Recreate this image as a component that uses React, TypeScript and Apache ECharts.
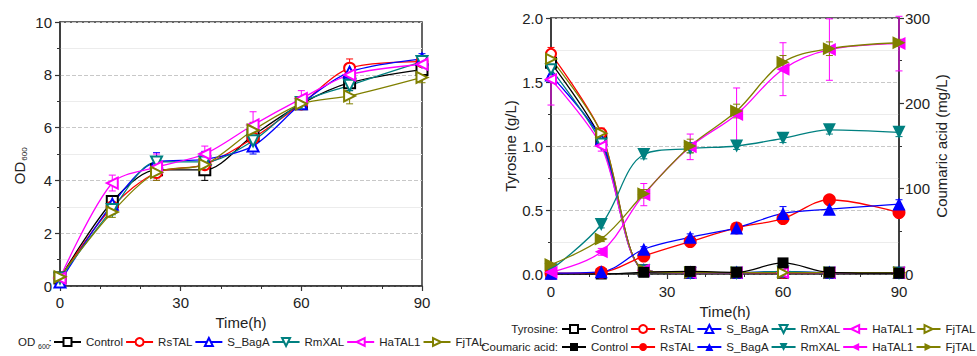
import React, { useEffect, useRef } from "react";
import * as echarts from "echarts";

// ---------- data ----------
const TIMES = [0, 13, 24, 36, 48, 60, 72, 90];
const STRAINS = ["Control", "RsTAL", "S_BagA", "RmXAL", "HaTAL1", "FjTAL"];
const COLORS = ["#000000", "#ff0000", "#0000ff", "#008080", "#ff00ff", "#808000"];

// OD600
const OD_CONTROL = [0.3, 3.2, 4.4, 4.4, 5.7, 6.9, 7.7, 8.2];
const OD_RSTAL = [0.3, 3.0, 4.3, 4.6, 5.6, 6.9, 8.25, 8.5];
const OD_SBAGA = [0.15, 3.1, 4.7, 4.8, 5.3, 6.9, 8.1, 8.6];
const OD_RMXAL = [0.3, 2.9, 4.7, 4.7, 5.5, 6.95, 7.6, 8.5];
const OD_HATAL1 = [0.3, 3.9, 4.5, 5.0, 6.1, 7.1, 8.0, 8.4];
const OD_FJTAL = [0.35, 2.8, 4.3, 4.6, 5.9, 6.9, 7.2, 7.9];

const OD_ERR_CONTROL = [0.05, 0.2, 0.3, 0.4, 0.3, 0.1, 0.3, 0.3];
const OD_ERR_RSTAL = [0.05, 0.2, 0.3, 0.4, 0.3, 0.2, 0.35, 0.2];
const OD_ERR_SBAGA = [0.05, 0.2, 0.35, 0.3, 0.3, 0.1, 0.3, 0.2];
const OD_ERR_RMXAL = [0.05, 0.2, 0.2, 0.2, 0.2, 0.1, 0.2, 0.2];
const OD_ERR_HATAL1 = [0.05, 0.3, 0.5, 0.3, 0.5, 0.3, 0.2, 0.2];
const OD_ERR_FJTAL = [0.05, 0.2, 0.3, 0.2, 0.3, 0.2, 0.3, 0.2];

// Tyrosine (g/L)
const TY_CONTROL = [1.65, 1.05, 0.03, 0.01, 0.01, 0.01, 0.01, 0.01];
const TY_RSTAL = [1.72, 1.1, 0.03, 0.01, 0.01, 0.01, 0.01, 0.01];
const TY_SBAGA = [1.55, 1.05, 0.03, 0.01, 0.01, 0.02, 0.01, 0.01];
const TY_RMXAL = [1.6, 1.02, 0.03, 0.01, 0.01, 0.02, 0.01, 0.01];
const TY_HATAL1 = [1.52, 1.0, 0.03, 0.01, 0.01, 0.01, 0.01, 0.01];
const TY_FJTAL = [1.68, 1.1, 0.03, 0.01, 0.01, 0.01, 0.01, 0.01];

const TY_ERR_CONTROL = [0.05, 0.03, 0.01, 0, 0, 0, 0, 0];
const TY_ERR_RSTAL = [0.05, 0.04, 0.01, 0, 0, 0, 0, 0];
const TY_ERR_SBAGA = [0.05, 0.03, 0.01, 0, 0, 0, 0, 0];
const TY_ERR_RMXAL = [0.05, 0.03, 0.01, 0, 0, 0, 0, 0];
const TY_ERR_HATAL1 = [0.2, 0.04, 0.01, 0, 0, 0, 0, 0];
const TY_ERR_FJTAL = [0.05, 0.03, 0.01, 0, 0, 0, 0, 0];

// Coumaric acid (mg/L)
const CA_CONTROL = [0, 0, 2, 3, 2, 13, 2, 1];
const CA_RSTAL = [1, 2, 21, 38, 54, 65, 87, 72];
const CA_SBAGA = [1, 2.5, 29, 43, 54, 71, 76, 82];
const CA_RMXAL = [5, 58, 140, 147, 150, 159, 169, 166];
const CA_HATAL1 = [2, 26, 93, 149, 187, 240, 263, 270];
const CA_FJTAL = [11, 41, 94, 150, 191, 248, 264, 271];

const CA_ERR_CONTROL = [0, 0, 1, 1, 1, 2, 1, 1];
const CA_ERR_RSTAL = [1, 1, 3, 4, 5, 5, 5, 5];
const CA_ERR_SBAGA = [1, 1, 3, 4, 5, 8, 6, 5];
const CA_ERR_RMXAL = [1, 4, 5, 5, 4, 5, 5, 5];
const CA_ERR_HATAL1 = [1, 4, 13, 15, 31, 31, 36, 32];
const CA_ERR_FJTAL = [1, 3, 5, 8, 8, 8, 8, 4];

const OD_SERIES = [OD_CONTROL, OD_RSTAL, OD_SBAGA, OD_RMXAL, OD_HATAL1, OD_FJTAL];
const OD_ERRS = [OD_ERR_CONTROL, OD_ERR_RSTAL, OD_ERR_SBAGA, OD_ERR_RMXAL, OD_ERR_HATAL1, OD_ERR_FJTAL];
const TY_SERIES = [TY_CONTROL, TY_RSTAL, TY_SBAGA, TY_RMXAL, TY_HATAL1, TY_FJTAL];
const TY_ERRS = [TY_ERR_CONTROL, TY_ERR_RSTAL, TY_ERR_SBAGA, TY_ERR_RMXAL, TY_ERR_HATAL1, TY_ERR_FJTAL];
const CA_SERIES = [CA_CONTROL, CA_RSTAL, CA_SBAGA, CA_RMXAL, CA_HATAL1, CA_FJTAL];
const CA_ERRS = [CA_ERR_CONTROL, CA_ERR_RSTAL, CA_ERR_SBAGA, CA_ERR_RMXAL, CA_ERR_HATAL1, CA_ERR_FJTAL];

const X_TICKS = [0, 30, 60, 90];

// ---------- styles ----------
const FONT = "Liberation Sans, Arial, Helvetica, sans-serif";
const TXT = "#222";
const AX = "#333";
const SHAPES = ["rect", "circle", "triangle", "triangle", "triangle", "triangle"];
const ROTS = [0, 0, 0, 180, 90, -90];

function errSeries(xi: number, yi: number, color: string, vals: number[], errs: number[], cap: number) {
  return {
    type: "custom",
    xAxisIndex: xi,
    yAxisIndex: yi,
    silent: true,
    z: 1,
    data: TIMES.map((t, i) => [t, vals[i], errs[i]]),
    encode: { x: 0, y: 1 },
    renderItem: (params: any, api: any) => {
      const x = api.value(0);
      const y = api.value(1);
      const e = api.value(2);
      if (!e) return { type: "group", children: [] };
      const a = api.coord([x, y + e]);
      const b = api.coord([x, y - e]);
      const style = { stroke: color, lineWidth: 1 };
      return {
        type: "group",
        children: [
          { type: "line", shape: { x1: a[0], y1: a[1], x2: b[0], y2: b[1] }, style },
          { type: "line", shape: { x1: a[0] - cap, y1: a[1], x2: a[0] + cap, y2: a[1] }, style },
          { type: "line", shape: { x1: b[0] - cap, y1: b[1], x2: b[0] + cap, y2: b[1] }, style },
        ],
      };
    },
  };
}

function lineSeries(name: string, xi: number, yi: number, i: number, vals: number[], filled: boolean, size: number, smooth: number) {
  const c = COLORS[i];
  const shape = SHAPES[i];
  return {
    type: "line",
    name,
    xAxisIndex: xi,
    yAxisIndex: yi,
    data: TIMES.map((t, k) => [t, vals[k]]),
    smooth,
    symbol: filled ? shape : "empty" + shape.charAt(0).toUpperCase() + shape.slice(1),
    symbolSize: size,
    symbolRotate: ROTS[i],
    showAllSymbol: true,
    lineStyle: { color: c, width: 1.3 },
    itemStyle: { color: c, borderColor: c, borderWidth: filled ? 0 : 1.2 },
    z: filled ? 4 : 3,
  };
}

function xAxis(gi: number, gap: number, margin: number) {
  return {
    type: "value",
    gridIndex: gi,
    min: 0,
    max: 90,
    interval: 30,
    name: "Time(h)",
    nameLocation: "middle",
    nameGap: gap,
    nameTextStyle: { fontSize: 15, color: TXT, fontFamily: FONT },
    axisLine: { show: true, onZero: false, lineStyle: { color: AX, width: 1.5 } },
    axisTick: { show: true, length: 5, lineStyle: { color: AX, width: 1.2 } },
    minorTick: { show: true, splitNumber: 3, length: 3, lineStyle: { color: AX, width: 1 } },
    splitLine: { show: false },
    axisLabel: { fontSize: 15, color: TXT, fontFamily: FONT, margin, formatter: (v: number) => (X_TICKS.includes(v) ? String(v) : "") },
  };
}

export default function App() {
  const ref = useRef<HTMLDivElement>(null);
  useEffect(() => {
    document.body.style.margin = "0";
    if (!ref.current) return;
    const chart = echarts.init(ref.current, null, { renderer: "svg" });

    const series: any[] = [];
    STRAINS.forEach((s, i) => {
      series.push(errSeries(0, 0, COLORS[i], OD_SERIES[i], OD_ERRS[i], 3.5));
      series.push(errSeries(1, 1, COLORS[i], TY_SERIES[i], TY_ERRS[i], 3.5));
      series.push(errSeries(1, 2, COLORS[i], CA_SERIES[i], CA_ERRS[i], 3.5));
    });
    STRAINS.forEach((s, i) => {
      series.push(lineSeries("OD|" + s, 0, 0, i, OD_SERIES[i], false, 11, 0.3));
      series.push(lineSeries("TY|" + s, 1, 1, i, TY_SERIES[i], false, 10, 0.3));
      series.push(lineSeries("CA|" + s, 1, 2, i, CA_SERIES[i], true, i === 0 ? 11 : 13, 0.35));
    });

    const legendBase = {
      orient: "horizontal",
      itemGap: 2,
      itemHeight: 10,
      padding: 0,
      width: 440,
      selectedMode: false,
      textStyle: { fontSize: 11.5, color: TXT, fontFamily: FONT },
      formatter: (n: string) => n.split("|")[1],
    };

    const option: any = {
      animation: false,
      textStyle: { fontFamily: FONT },
      grid: [
        { left: 60, top: 22, width: 362, height: 264, show: true, borderColor: AX, borderWidth: 1.5, backgroundColor: "transparent" },
        { left: 551, top: 18, width: 348, height: 256, show: true, borderColor: AX, borderWidth: 1.5, backgroundColor: "transparent" },
      ],
      xAxis: [xAxis(0, 28, 9), xAxis(1, 23, 10)],
      yAxis: [
        {
          type: "value",
          gridIndex: 0,
          min: 0,
          max: 10,
          interval: 2,
          axisLine: { show: true, lineStyle: { color: AX, width: 1.5 } },
          axisTick: { show: true, length: 5, lineStyle: { color: AX, width: 1.2 } },
          minorTick: { show: true, splitNumber: 2, length: 3, lineStyle: { color: AX } },
          splitLine: { show: true, lineStyle: { color: "#c8c8c8", type: "dashed", width: 1 } },
          minorSplitLine: { show: true, lineStyle: { color: "#ececec", width: 1 } },
          axisLabel: { fontSize: 15, color: TXT, fontFamily: FONT, margin: 8 },
        },
        {
          type: "value",
          gridIndex: 1,
          min: 0,
          max: 2,
          interval: 0.5,
          name: "Tyrosine (g/L)",
          nameLocation: "middle",
          nameRotate: 90,
          nameGap: 33,
          nameTextStyle: { fontSize: 15, color: TXT, fontFamily: FONT },
          axisLine: { show: true, lineStyle: { color: AX, width: 1.5 } },
          axisTick: { show: true, length: 5, lineStyle: { color: AX, width: 1.2 } },
          minorTick: { show: true, splitNumber: 2, length: 3, lineStyle: { color: AX } },
          splitLine: { show: true, lineStyle: { color: "#c8c8c8", type: "dashed", width: 1 } },
          minorSplitLine: { show: true, lineStyle: { color: "#ececec", width: 1 } },
          axisLabel: { fontSize: 15, color: TXT, fontFamily: FONT, margin: 8, formatter: (v: number) => v.toFixed(1) },
        },
        {
          type: "value",
          gridIndex: 1,
          position: "right",
          min: 0,
          max: 300,
          interval: 100,
          name: "Coumaric acid (mg/L)",
          nameLocation: "middle",
          nameRotate: 90,
          nameGap: 33,
          nameTextStyle: { fontSize: 15, color: TXT, fontFamily: FONT },
          axisLine: { show: true, lineStyle: { color: AX, width: 1.5 } },
          axisTick: { show: true, length: 5, lineStyle: { color: AX, width: 1.2 } },
          minorTick: { show: true, splitNumber: 2, length: 3, lineStyle: { color: AX } },
          splitLine: { show: false },
          axisLabel: { fontSize: 15, color: TXT, fontFamily: FONT, margin: 6 },
        },
      ],
      legend: [
        { ...legendBase, data: STRAINS.map((s) => "OD|" + s), left: 53, top: 336, itemWidth: 27 },
        { ...legendBase, data: STRAINS.map((s) => "TY|" + s), left: 561, top: 323, itemWidth: 24 },
        { ...legendBase, data: STRAINS.map((s) => "CA|" + s), left: 561, top: 341, itemWidth: 24 },
      ],
      graphic: [
        // y-axis title OD600 (rotated)
        { type: "text", x: 19, y: 173, rotation: Math.PI / 2, style: { text: "OD", fontSize: 15, fill: TXT, fontFamily: FONT, align: "center", verticalAlign: "middle" } },
        { type: "text", x: 24, y: 154, rotation: Math.PI / 2, style: { text: "600", fontSize: 8, fill: TXT, fontFamily: FONT, align: "center", verticalAlign: "middle" } },
        // legend prefixes
        { type: "text", x: 18, y: 342, style: { text: "OD", fontSize: 11.5, fill: TXT, fontFamily: FONT, align: "left", verticalAlign: "middle" } },
        { type: "text", x: 38, y: 346, style: { text: "600", fontSize: 7, fill: TXT, fontFamily: FONT, align: "left", verticalAlign: "middle" } },
        { type: "text", x: 48.5, y: 342, style: { text: ":", fontSize: 11.5, fill: TXT, fontFamily: FONT, align: "left", verticalAlign: "middle" } },
        { type: "text", x: 558, y: 329, style: { text: "Tyrosine:", fontSize: 11.5, fill: TXT, fontFamily: FONT, align: "right", verticalAlign: "middle" } },
        { type: "text", x: 558, y: 347, style: { text: "Coumaric acid:", fontSize: 11.5, fill: TXT, fontFamily: FONT, align: "right", verticalAlign: "middle" } },
      ],
      series,
    };
    chart.setOption(option);
    return () => chart.dispose();
  }, []);
  return <div ref={ref} style={{ width: 977, height: 356 }} />;
}
